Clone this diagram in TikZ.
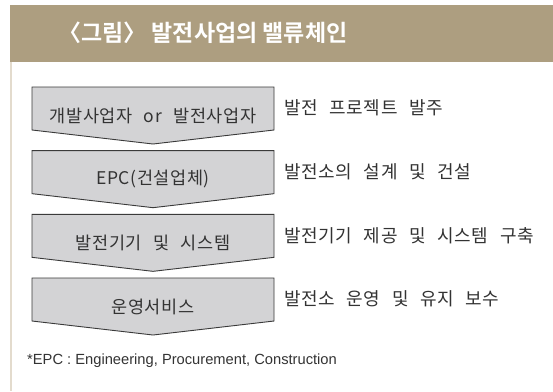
\documentclass[tikz,border=0pt]{standalone}
\usepackage{fontspec}
\setmainfont{Noto Sans CJK KR}
\newfontfamily\krfont[LetterSpace=3.5,WordSpace=2.5]{Noto Sans CJK KR}
\newfontfamily\krbold{Noto Sans CJK KR Bold}
\newfontfamily\latinfont{Liberation Sans}
\definecolor{headbg}{HTML}{AD9E80}
\definecolor{sideline}{HTML}{E3DBCD}
\definecolor{boxfill}{HTML}{D3D3D5}
\definecolor{boxline}{HTML}{3A3A3A}
\definecolor{txt}{HTML}{333333}
\tikzset{
  chevbox/.style={fill=boxfill, draw=boxline, line width=0.9pt, line join=miter},
  boxtext/.style={font=\krfont\fontsize{17.5}{20}\selectfont, text=txt, inner sep=0pt},
  labeltext/.style={font=\krfont\fontsize{18}{20}\selectfont, text=txt, anchor=west, inner sep=0pt},
}
\begin{document}
\begin{tikzpicture}[x=1pt,y=-1pt]
\useasboundingbox (0,0) rectangle (553,391);
\fill[white] (0,0) rectangle (553,391);
% header
\fill[headbg] (10,5) rectangle (553,62);
\node[anchor=west, inner sep=0pt, text=white, font=\krbold\fontsize{23}{25}\selectfont] (title) at (58,33) {〈그림〉 발전사업의 밸류체인};
% side line
\fill[sideline] (10,62) rectangle (12,391);
% boxes
\foreach \i/\t/\l in {0/{개발사업자 or 발전사업자}/{발전 프로젝트 발주},
                      1/{EPC(건설업체)}/{발전소의 설계 및 건설},
                      2/{발전기기 및 시스템}/{발전기기 제공 및 시스템 구축},
                      3/{운영서비스}/{발전소 운영 및 유지 보수}}{
  \pgfmathsetmacro{\yt}{87+63.67*\i}
  \draw[chevbox] (32,\yt) -- (274,\yt) -- (274,\yt+43) -- (153,\yt+57) -- (32,\yt+43) -- cycle;
  \node[boxtext] (box\i) at (153,\yt+28.5) {\t};
  \node[labeltext] (lab\i) at (284,\yt+21) {\l};
}
% footnote
\node[anchor=west, inner sep=0pt, text=txt, font=\latinfont\fontsize{14.7}{16}\selectfont] (note) at (27,361) {*EPC : Engineering, Procurement, Construction};
\end{tikzpicture}
\end{document}
